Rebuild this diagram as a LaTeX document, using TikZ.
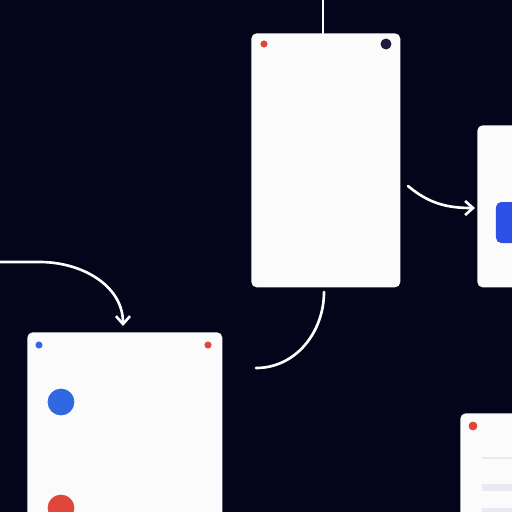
\documentclass[tikz,border=0pt]{standalone}
\usepackage{xcolor}
\usetikzlibrary{arrows.meta}

\definecolor{bgnavy}{HTML}{04041A}
\definecolor{cardwhite}{HTML}{FBFBFB}
\definecolor{dotred}{HTML}{E0463A}
\definecolor{dotblue}{HTML}{2F68E0}
\definecolor{dotnavy}{HTML}{1E1E3C}
\definecolor{barblue}{HTML}{2D4FE3}
\definecolor{barpale}{HTML}{E8E9F3}

\tikzset{
	card/.style={fill=cardwhite, rounded corners=3pt, inner sep=0pt, anchor=north west},
	wire/.style={draw=white, line width=1.5pt, line cap=round},
	tip/.style={-{Straight Barb[length=4.5pt,width=8pt,line width=1.5pt]}}
}

\begin{document}
\begin{tikzpicture}[x=0.02cm,y=-0.02cm]
	\useasboundingbox (0,0) rectangle (512,512);
	\fill[bgnavy] (0,0) rectangle (512,512);
	\clip (0,0) rectangle (512,512);

	% cards
	\node[card, minimum width=2.98cm, minimum height=5.08cm] (top) at (251,33) {};
	\node[card, minimum width=1.8cm, minimum height=3.24cm] (right) at (477,125) {};
	\node[card, minimum width=3.9cm, minimum height=4.6cm] (left) at (27,332) {};
	\node[card, minimum width=2cm, minimum height=2.9cm] (corner) at (460,413) {};

	% free ends
	\coordinate (topin) at (323,0);
	\coordinate (leftin) at (0,262);
	\coordinate (midout) at (408,186);
	\coordinate (curvea) at (324,292);
	\coordinate (curveb) at (256,368);

	% connectors
	\draw[wire, line width=1.2pt] (topin) -- (top.north -| topin);
	\draw[wire, tip] (leftin) -- (40,262) to[out=0,in=90] (123,326);
	\draw[wire, tip] (midout) to[out=-40,in=180] (475,208);
	\draw[wire] (curvea) to[out=-90,in=0] (curveb);

	% dots
	\filldraw[dotred] (264,44) circle(1.8pt);
	\filldraw[dotnavy] (386,44) circle(2.9pt);
	\filldraw[dotblue] (39,345) circle(1.8pt);
	\filldraw[dotred] (208,345) circle(1.8pt);
	\filldraw[dotblue] (61,402) circle(7.4pt);
	\filldraw[dotred] (61,508) circle(7.4pt);
	\filldraw[dotred] (473,426) circle(2.3pt);

	% inner bars
	\fill[barblue, rounded corners=3pt] (496,202) rectangle (530,243);
	\fill[barpale] (482,457) rectangle (512,459);
	\fill[barpale] (482,484) rectangle (512,491);
	\fill[barpale] (482,508) rectangle (512,512);
\end{tikzpicture}
\end{document}
